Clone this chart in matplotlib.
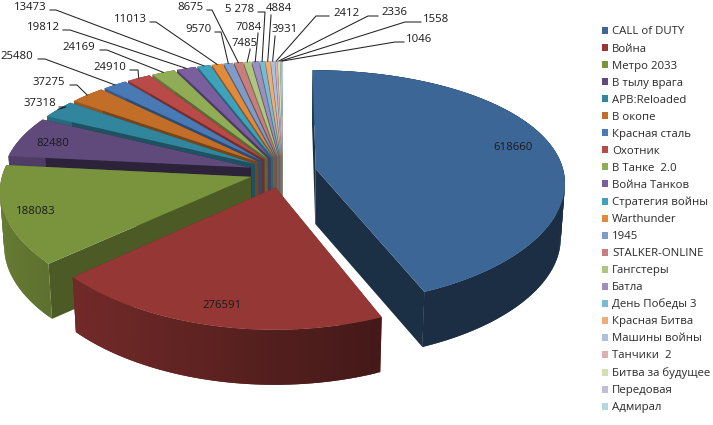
import numpy as np
import matplotlib
matplotlib.use("Agg")
import matplotlib.pyplot as plt
from matplotlib.patches import Patch

plt.rcParams["font.family"] = ["Open Sans", "DejaVu Sans"]

games = ["CALL of DUTY", "Война", "Метро 2033", "В тылу врага", "APB:Reloaded", "В окопе",
         "Красная сталь", "Охотник", "В Танке  2.0", "Война Танков", "Стратегия войны",
         "Warthunder", "1945", "STALKER-ONLINE", "Гангстеры", "Батла", "День Победы 3",
         "Красная Битва", "Машины войны", "Танчики  2", "Битва за будущее", "Передовая", "Адмирал"]
players = [618660, 276591, 188083, 82480, 37318, 37275, 25480, 24910, 24169, 19812, 13473,
           11013, 9570, 8675, 7485, 7084, 5278, 4884, 3931, 2412, 2336, 1558, 1046]
value_text = ["618660", "276591", "188083", "82480", "37318", "37275", "25480", "24910",
              "24169", "19812", "13473", "11013", "9570", "8675", "7485", "7084", "5 278",
              "4884", "3931", "2412", "2336", "1558", "1046"]
colors = ["#3b6696", "#953735", "#7a933d", "#604a7b", "#31859c", "#c26e28", "#4a7ab5", "#b84a47",
          "#90ad55", "#7a5f9e", "#3fa2bc", "#e08a3c", "#7f9cc8", "#c77f7d", "#aec680", "#9c8ebd",
          "#79bcd2", "#eeac77", "#aec0dc", "#dcb0af", "#d0dfb5", "#c5bcd6", "#b2d7e2"]

# label placement in pixels: text centre, then start and knee of the leader line
label_xy = [(513, 147), (222, 306), (36, 211), (53, 144), (40, 103), (49, 82), (17, 56), (110, 67),
            (79, 47), (43, 27), (30, 7), (130, 19), (199, 29), (190, 7), (245, 43), (249, 27),
            (240, 9), (279, 8), (285, 29), (346, 13), (394, 12), (436, 19), (419, 39)]
leader_start = [None, None, None, None, (59, 107), (70, 85), (38, 59), (130, 70), (100, 50), (63, 30),
                (50, 10), (150, 22), (215, 32), (207, 10), (250, 49), (258, 33), (258, 12),
                (271, 15), (275, 36), (329, 16), (378, 16), (421, 22), (404, 42)]
leader_knee = [None, None, None, None, (66, 107), (77, 85), (45, 59), (138, 70), (107, 50), (70, 30),
               (56, 10), (156, 22), (221, 32), (212, 10), (250, 50), (258, 34), (265, 12),
               (271, 16), (275, 37), (316, 16), (368, 16), (405, 22), (395, 42)]

CX, CY = 283, 172      # pie centre
A, B = 248, 115        # radii of the top ellipse
PERSP_X, PERSP_Y = 0.11, 0.155
EXPLODE = 0.135
DEPTH = 55


def project(u, v):
    return CX + A * u / (1 - PERSP_X * v), CY + B * v / (1 - PERSP_Y * v)


def drop(pts):
    # bottom rim sits a bit closer to the centre than the top rim
    pts = np.asarray(pts)
    return np.column_stack([CX + (pts[:, 0] - CX) * 0.985, pts[:, 1] + DEPTH])


def shaded(color, k):
    rgb = np.array(matplotlib.colors.to_rgb(color))
    return tuple(rgb * k)


fracs = np.array(players) / sum(players)
edges = np.concatenate([[0], np.cumsum(fracs)]) * 2 * np.pi

fig = plt.figure(figsize=(7.13, 4.25), dpi=100)
ax = fig.add_axes([0, 0, 1, 1])
ax.set_xlim(0, 713)
ax.set_ylim(425, 0)
ax.axis("off")

# back to front: small slices first, then green side, then blue, red on top
order = list(range(len(players) - 1, 1, -1)) + [0, 1]
z = 2
for i in order:
    t0, t1 = edges[i], edges[i + 1]
    mid = (t0 + t1) / 2
    ox, oy = EXPLODE * np.sin(mid), -EXPLODE * np.cos(mid)
    ts = np.linspace(t0, t1, max(4, int((t1 - t0) * 50)))
    rim = np.array([project(ox + np.sin(t), oy - np.cos(t)) for t in ts])
    tip = np.array([project(ox, oy)])
    low_rim, low_tip = drop(rim), drop(tip)
    base = colors[i]

    # flat cut faces
    k_face = 0.46 if i in (0, 3) else 0.62
    for end, low_end in ((rim[0], low_rim[0]), (rim[-1], low_rim[-1])):
        ax.fill([tip[0, 0], end[0], low_end[0], low_tip[0, 0]],
                [tip[0, 1], end[1], low_end[1], low_tip[0, 1]],
                color=shaded(base, k_face), lw=0, zorder=z)
    z += 1
    # outer wall, darker towards the right; strips overlap so no seams show
    for j in range(len(ts) - 1):
        u = np.sin(ts[j])
        k = np.clip(0.56 - 0.28 * u, 0.45, 0.9)
        e = min(j + 2, len(ts) - 1)
        ax.fill([rim[j, 0], rim[e, 0], low_rim[e, 0], low_rim[j, 0]],
                [rim[j, 1], rim[e, 1], low_rim[e, 1], low_rim[j, 1]],
                color=shaded(base, k), lw=0, zorder=z)
        z += 0.001
    z += 1
    top = np.vstack([tip, rim])
    ax.fill(top[:, 0], top[:, 1], color=base, lw=0, zorder=z)
    z += 1

# leader lines and value labels
for i, txt in enumerate(value_text):
    x, y = label_xy[i]
    ax.text(x, y, txt, fontsize=8.2, color="#1a1a1a", ha="center", va="center", zorder=z + 2)
    if leader_start[i] is None:
        continue
    mid = (edges[i] + edges[i + 1]) / 2
    ox, oy = EXPLODE * np.sin(mid), -EXPLODE * np.cos(mid)
    tx, ty = project(ox + np.sin(mid), oy - np.cos(mid))
    sx, sy = leader_start[i]
    kx, ky = leader_knee[i]
    ax.plot([sx, kx, tx], [sy, ky, ty], color="#222222", lw=0.75, zorder=z + 1)

handles = [Patch(facecolor=c, edgecolor="none") for c in colors]
ax.legend(handles, games, loc="upper left", bbox_to_anchor=(602 / 713, 1 - 26.5 / 425),
          frameon=False, fontsize=8.2, handlelength=0.57, handleheight=0.57, handletextpad=0.33,
          labelspacing=0.528, borderpad=0, borderaxespad=0, labelcolor="#2a2a2a")

fig.savefig("out.png", dpi=100, facecolor="white")
